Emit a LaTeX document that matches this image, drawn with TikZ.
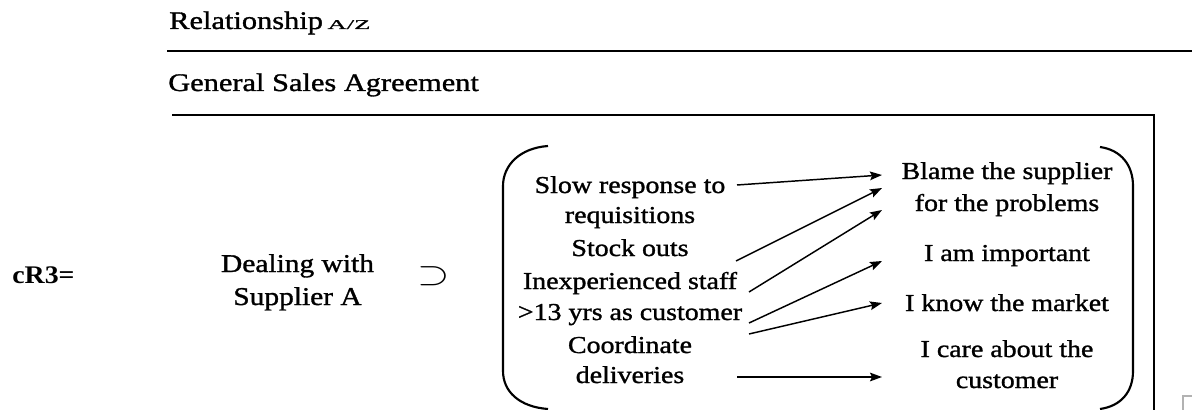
\documentclass[tikz,border=0pt]{standalone}
\usepackage{fontspec}
\setmainfont{Liberation Serif}[FakeStretch=1.15, FakeBold=1.2]
\newfontfamily\headfont{Liberation Serif}[FakeStretch=1.2, FakeBold=1.2]
\newfontfamily\azfont{Liberation Serif}[FakeStretch=2.0, FakeBold=1.2]
\newfontfamily\strongfont{Liberation Serif Bold}[FakeStretch=1.1]
\usetikzlibrary{arrows.meta}

\tikzset{
  head/.style={anchor=base west, inner sep=0pt, font=\headfont\fontsize{19}{22}\selectfont},
  txt/.style={anchor=base, inner sep=0pt, font=\fontsize{18.2}{21}\selectfont},
  big/.style={anchor=base, inner sep=0pt, font=\fontsize{19.2}{22}\selectfont},
  rule/.style={line width=1.5pt},
  brk/.style={line width=1.6pt},
  link/.style={line width=1.1pt, -{Stealth[length=9pt,width=6.5pt,inset=1.5pt]}}
}

\begin{document}
\begin{tikzpicture}[x=0.75pt, y=-0.75pt]
\useasboundingbox (0,0) rectangle (1192,410);

% headings and their rules
\node[head] (rel) at (169,29) {Relationship};
\node[anchor=base west, inner sep=0pt, font=\azfont\fontsize{10}{11}\selectfont] (az) at ([xshift=3pt]rel.base east) {A/Z};
\draw[rule] (167,51) -- (1192,51);
\node[head] (gsa) at (168,91) {General Sales Agreement};
\draw[rule] (172,114.5) -- (1154,114.5) -- (1154,410);

% left-hand side of the relation
\node[anchor=base west, inner sep=0pt, font=\strongfont\fontsize{19}{22}\selectfont] (cr) at (12,283) {cR3=};
\node[big] (deal1) at (297.5,272) {Dealing with};
\node[big] (deal2) at (297.5,305) {Supplier A};
\node[inner sep=0pt] (sup) at (434,276) {\scalebox{1.25}[1]{\fontsize{24}{24}\selectfont$\supset$}};

% bracketed group
\draw[brk] (548,146) .. controls (520,148) and (503,165) .. (503,186) -- (503,371)
  .. controls (503,392) and (520,407) .. (548,409);
\draw[brk] (1100,147) .. controls (1121,150) and (1133,165) .. (1133,186) -- (1133,371)
  .. controls (1133,392) and (1121,406) .. (1100,409);

% causes
\node[txt] (l1) at (630,193) {Slow response to};
\node[txt] (l2) at (630,223) {requisitions};
\node[txt] (l3) at (630,256) {Stock outs};
\node[txt] (l4) at (630,289) {Inexperienced staff};
\node[txt] (l5) at (630,320) {>13 yrs as customer};
\node[txt] (l6) at (630,353) {Coordinate};
\node[txt] (l7) at (630,383) {deliveries};

% consequences
\node[txt] (r1) at (1007,179) {Blame the supplier};
\node[txt] (r2) at (1007,211) {for the problems};
\node[txt] (r3) at (1007,261) {I am important};
\node[txt] (r4) at (1007,311) {I know the market};
\node[txt] (r5) at (1007,357) {I care about the};
\node[txt] (r6) at (1007,388) {customer};

% arrow end points
\coordinate (a1s) at (737,185);  \coordinate (a1e) at (882,175);
\coordinate (a2s) at (736,261);  \coordinate (a2e) at (882,188);
\coordinate (a3s) at (749,292);  \coordinate (a3e) at (882,210);
\coordinate (a4s) at (749,323);  \coordinate (a4e) at (882,261);
\coordinate (a5s) at (749,334);  \coordinate (a5e) at (882,303);
\coordinate (a6s) at (737,377);  \coordinate (a6e) at (882,377);

\draw[link] (a1s) -- (a1e);
\draw[link] (a2s) -- (a2e);
\draw[link] (a3s) -- (a3e);
\draw[link] (a4s) -- (a4e);
\draw[link] (a5s) -- (a5e);
\draw[link] (a6s) -- (a6e);

% corner of a neighbouring frame
\draw[gray!60, line width=0.9pt] (1183,410) -- (1183,396) -- (1192,396);
\end{tikzpicture}
\end{document}
